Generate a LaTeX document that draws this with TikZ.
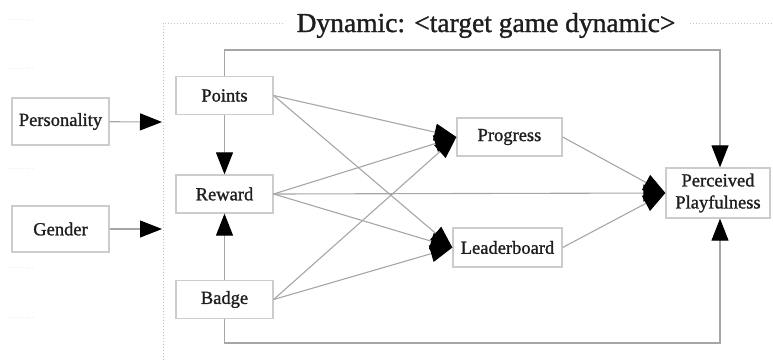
\documentclass[tikz,border=0pt]{standalone}
\usepackage{fontspec}
\setmainfont{Liberation Serif}
\newfontfamily\labelfont[FakeBold=1.2]{Liberation Serif}
\usetikzlibrary{arrows.meta}
\definecolor{boxline}{HTML}{CCCCCC}
\definecolor{edgeline}{HTML}{A6A6A6}
\definecolor{frameline}{HTML}{C4C4C4}
\definecolor{textgray}{HTML}{1E1E1E}
\tikzset{
  x=1pt, y=-1pt,
  box/.style={draw=boxline, line width=1.3pt, inner sep=0pt, text=textgray,
    font=\labelfont\fontsize{18.5}{22}\selectfont, align=center},
  edge/.style={draw=edgeline, line width=1.1pt,
    -{Triangle[length=22pt,width=17pt,color=black]}},
  frame/.style={draw=frameline, line width=1pt, dotted},
  faint/.style={draw=black!8, line width=1pt, dotted}
}
\begin{document}
\begin{tikzpicture}
\useasboundingbox (0,0) rectangle (773,360);

% faint marks along the left margin
\foreach \yy in {19,68,168,267,317}
  \draw[faint] (8,\yy) -- (35,\yy);

% dotted frame of the dynamic block with its title
\coordinate (fbl) at (163,360);
\coordinate (ftl) at (163,23);
\coordinate (ftm) at (285,23);
\coordinate (ftr) at (690,23);
\coordinate (fte) at (773,23);
\draw[frame] (fbl) -- (ftl) -- (ftm);
\draw[frame] (ftr) -- (fte);
\node[anchor=base, text=textgray, font=\labelfont\fontsize{27.5}{30}\selectfont, inner sep=0pt]
  (title) at (486,32) {Dynamic: <target game dynamic>};

% inputs outside the block
\node[box, minimum width=97pt, minimum height=47pt] (pers) at (60.5,121.5) {Personality};
\node[box, minimum width=97pt, minimum height=46pt] (gend) at (60.5,229) {Gender};
\coordinate (pin) at (162,122);
\coordinate (gin) at (162,229);

% game elements
\node[box, minimum width=97pt, minimum height=38pt] (points) at (224.5,95.5) {Points};
\node[box, minimum width=97pt, minimum height=38pt] (reward) at (224.5,194) {Reward};
\node[box, minimum width=97pt, minimum height=38pt] (badge) at (224.5,299.5) {Badge};

% mediators
\node[box, minimum width=105pt, minimum height=38pt] (progress) at (509.5,137) {Progress};
\node[box, minimum width=109pt, minimum height=39pt] (leader) at (507.5,247.5) {Leaderboard};

% outcome
\node[box, minimum width=104pt, minimum height=50pt] (pp) at (718,193) {Perceived\\Playfulness};

% inputs into the block
\draw[edge] (pers) -- (pin);
\draw[edge] (gend) -- (gin);

% links between the elements
\draw[edge] (points) -- (reward);
\draw[edge] (badge) -- (reward);

\draw[edge] (points.east) -- (progress.west);
\draw[edge] (points.east) -- (leader.west);
\draw[edge] (reward.east) -- (progress.west);
\draw[edge] (reward.east) -- (leader.west);
\draw[edge] (badge.east) -- (progress.west);
\draw[edge] (badge.east) -- (leader.west);
\draw[edge] (reward.east) -- (pp.west);
\draw[edge] (progress.east) -- (pp.west);
\draw[edge] (leader.east) -- (pp.west);

% direct paths around the mediators
\coordinate (top) at (720,50);
\coordinate (bot) at (720,343);
\draw[edge] (points.north) |- (top) -- (top |- pp.north);
\draw[edge] (badge.south) |- (bot) -- (bot |- pp.south);
\end{tikzpicture}
\end{document}
